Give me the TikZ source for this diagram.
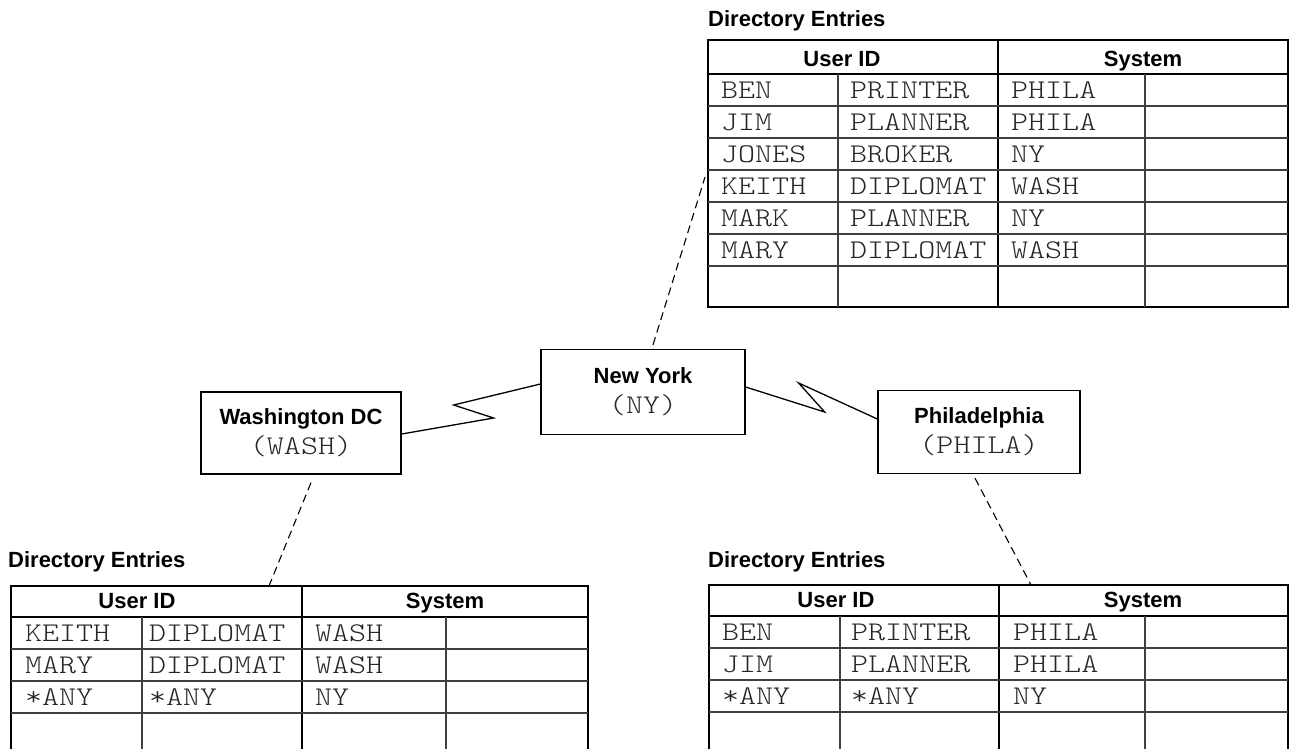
\documentclass[tikz,border=0pt]{standalone}
\usepackage{fontspec}
\setsansfont{Liberation Sans}
\newfontfamily\idfont[FakeStretch=1.2]{lmmonolt10-regular.otf}
\newcommand{\idtext}[1]{{\fontsize{27}{30}\selectfont\idfont\color{black!85}#1}}

\begin{document}
\begin{tikzpicture}[x=1pt,y=-1pt,
  site/.style={draw,line width=1.3pt,align=center,inner sep=0pt,font=\fontsize{22}{30}\selectfont\sffamily\bfseries},
  title/.style={anchor=base west,inner sep=0pt,font=\fontsize{22}{26}\selectfont\sffamily\bfseries},
  head/.style={anchor=base,inner sep=0pt,font=\fontsize{22}{26}\selectfont\sffamily\bfseries},
  cell/.style={anchor=west,inner sep=0pt,text=black!85,font=\fontsize{27}{30}\selectfont\idfont},
  frame/.style={line width=1.5pt},
  rule/.style={line width=1.1pt,black!75},
  link/.style={line width=1.1pt,dash pattern=on 8pt off 5pt},
  wire/.style={line width=1.3pt,line join=miter}]
\useasboundingbox (0,0) rectangle (1289,748);

% sites
\node[site,minimum width=204pt,minimum height=85pt] (ny) at (643,392) {New York\\\idtext{(NY)}};
\node[site,minimum width=200pt,minimum height=82pt] (wash) at (301,433) {Washington DC\\\idtext{(WASH)}};
\node[site,minimum width=202pt,minimum height=83pt] (phila) at (979,432) {Philadelphia\\\idtext{(PHILA)}};

\draw[wire] ([yshift=-1pt]wash.east) -- ++(92,-16) -- ++(-40,-13) -- ([yshift=8pt]ny.west);
\draw[wire] ([yshift=5pt]ny.east) -- ++(79,25) -- ++(-26,-29) -- ([yshift=13pt]phila.west);

% New York directory
\node[title] (ny-title) at (708,26) {Directory Entries};
\draw[frame] (708,40) rectangle (1288,307);
\draw[frame] (708,74) -- (1288,74) (998,40) -- (998,307);
\draw[rule] (838,74) -- (838,307) (1145,74) -- (1145,307);
\foreach \y in {106,138,...,266} \draw[rule] (708,\y) -- (1288,\y);
\node[head] (ny-user) at (842,66) {User ID};
\node[head] (ny-sys) at (1143,66) {System};
\foreach \a/\b/\c [count=\i] in {BEN/PRINTER/PHILA,JIM/PLANNER/PHILA,JONES/BROKER/NY,KEITH/DIPLOMAT/WASH,MARK/PLANNER/NY,MARY/DIPLOMAT/WASH} {
  \node[cell] (ny-\i-a) at (721,{58+32*\i}) {\a};
  \node[cell] (ny-\i-b) at (850,{58+32*\i}) {\b};
  \node[cell] (ny-\i-c) at (1011,{58+32*\i}) {\c};
}
\coordinate (ny-end) at (705,177);
\draw[link] ([xshift=10pt,yshift=4pt]ny.north) -- (ny-end);

% Washington directory
\node[title] (wash-title) at (8,567) {Directory Entries};
\draw[frame] (11,586) rectangle (588,760);
\draw[frame] (11,617) -- (588,617) (302,586) -- (302,760);
\draw[rule] (142,617) -- (142,760) (446,617) -- (446,760);
\foreach \y in {649,681,713} \draw[rule] (11,\y) -- (588,\y);
\node[head] (wash-user) at (137,608) {User ID};
\node[head] (wash-sys) at (445,608) {System};
\foreach \a/\b/\c [count=\i] in {KEITH/DIPLOMAT/WASH,MARY/DIPLOMAT/WASH,*ANY/*ANY/NY} {
  \node[cell] (wash-\i-a) at (25,{601+32*\i}) {\a};
  \node[cell] (wash-\i-b) at (149,{601+32*\i}) {\b};
  \node[cell] (wash-\i-c) at (315,{601+32*\i}) {\c};
}
\coordinate (wash-end) at (269,586);
\draw[link] ([xshift=10pt,yshift=-8pt]wash.south) -- (wash-end);

% Philadelphia directory
\node[title] (phila-title) at (708,567) {Directory Entries};
\draw[frame] (709,585) rectangle (1288,760);
\draw[frame] (709,616) -- (1288,616) (999,585) -- (999,760);
\draw[rule] (840,616) -- (840,760) (1145,616) -- (1145,760);
\foreach \y in {648,680,712} \draw[rule] (709,\y) -- (1288,\y);
\node[head] (phila-user) at (836,607) {User ID};
\node[head] (phila-sys) at (1143,607) {System};
\foreach \a/\b/\c [count=\i] in {BEN/PRINTER/PHILA,JIM/PLANNER/PHILA,*ANY/*ANY/NY} {
  \node[cell] (phila-\i-a) at (722,{600+32*\i}) {\a};
  \node[cell] (phila-\i-b) at (851,{600+32*\i}) {\b};
  \node[cell] (phila-\i-c) at (1013,{600+32*\i}) {\c};
}
\coordinate (phila-end) at (1031,585);
\draw[link] ([xshift=-4pt,yshift=-4pt]phila.south) -- (phila-end);
\end{tikzpicture}
\end{document}
